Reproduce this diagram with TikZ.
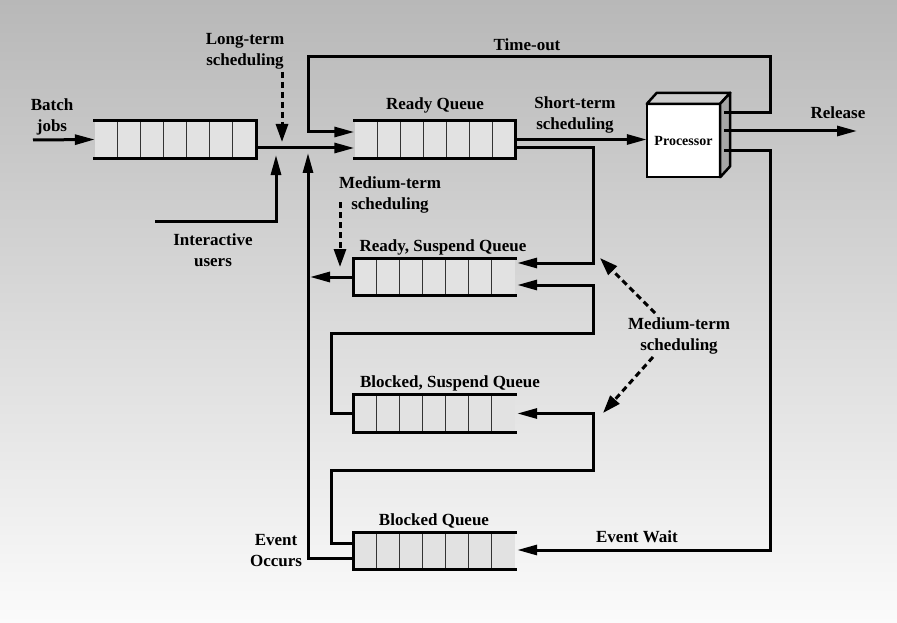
\documentclass[tikz,border=0pt]{standalone}
\usepackage{fontspec}
\setmainfont{Liberation Serif}
\usetikzlibrary{arrows.meta,calc}
\definecolor{bgtop}{RGB}{184,184,184}
\definecolor{bgbot}{RGB}{251,251,251}
\definecolor{qfill}{RGB}{226,226,226}
\definecolor{ptop}{RGB}{205,205,205}
\definecolor{pside}{RGB}{165,165,165}
\tikzset{
  qnode/.style={rectangle, minimum width=161pt, minimum height=37pt, inner sep=0pt, fill=qfill, draw=none},
  qsep/.style={line width=1pt, black!80},
  qline/.style={line width=3pt, line join=miter, line cap=rect},
  conn/.style={line width=3pt, line join=miter},
  arr/.style={conn, -{Triangle[length=20pt,width=10pt]}},
  darr/.style={line width=3pt, dash pattern=on 6pt off 4pt, -{Triangle[length=18pt,width=12pt]}},
  lbl/.style={font=\fontsize{17}{21}\selectfont\bfseries, align=center, inner sep=0pt},
  plbl/.style={font=\fontsize{14}{17}\selectfont\bfseries, inner sep=0pt},
}
\newcommand\drawqueue[4]{%
  \node[qnode] (#1) at (#2,#3) {};
  \foreach \k in {1,...,6}{\draw[qsep] ($(#1.north west)+(\k*23,0)$) -- ($(#1.south west)+(\k*23,0)$);}
  \ifx e#4
    \draw[qline] (#1.north west) -- (#1.north east) -- (#1.south east) -- (#1.south west);
  \else
    \draw[qline] (#1.north east) -- (#1.north west) -- (#1.south west) -- (#1.south east);
  \fi
}
\begin{document}
\begin{tikzpicture}[x=1pt,y=-1pt]
\useasboundingbox (0,0) rectangle (897,623);
\shade[top color=bgtop, bottom color=bgbot] (0,0) rectangle (897,623);

% queues
\drawqueue{bq}{175.5}{139.5}{e}
\drawqueue{rq}{435}{139.5}{e}
\drawqueue{rsq}{434.5}{277}{w}
\drawqueue{bsq}{434.5}{413.5}{w}
\drawqueue{blq}{434.5}{551}{w}

% processor
\node[rectangle, minimum width=73pt, minimum height=73pt, inner sep=0pt, fill=white] (proc) at (683.5,140.5) {};
\filldraw[fill=ptop, line width=2.5pt, line join=round] (proc.north west) -- ++(10,-11) -- ($(proc.north east)+(10,-11)$) -- (proc.north east) -- cycle;
\filldraw[fill=pside, line width=2.5pt, line join=round] (proc.north east) -- ++(10,-11) -- ($(proc.south east)+(10,-11)$) -- (proc.south east) -- cycle;
\draw[line width=2.5pt] (proc.north west) rectangle (proc.south east);
\node[plbl] at (proc.center) {Processor};

% labels
\node[lbl] (lbatch) at (52,117) {Batch\\jobs};
\node[lbl] (llong) at (245,51) {Long-term\\scheduling};
\node[lbl] (linter) at (213,250) {Interactive\\users};
\node[lbl] (ltime) at (527,45) {Time-out};
\node[lbl] (lrq) at (435,105) {Ready Queue};
\node[lbl] (lshort) at (575,115) {Short-term\\scheduling};
\node[lbl] (lrel) at (838,113) {Release};
\node[lbl] (lmed1) at (390,195) {Medium-term\\scheduling};
\node[lbl] (lrsq) at (443,247) {Ready, Suspend Queue};
\node[lbl] (lmed2) at (679,336) {Medium-term\\scheduling};
\node[lbl] (lbsq) at (450,383) {Blocked, Suspend Queue};
\node[lbl] (lblq) at (434,521) {Blocked Queue};
\node[lbl] (lev) at (276,551) {Event\\Occurs};
\node[lbl] (lwait) at (637,537) {Event Wait};

% free ends
\coordinate (batchin) at (33,140);
\coordinate (interin) at (155,221);
\coordinate (relout) at (857,131);

% connectors
\draw[arr] (batchin) -- (bq.west);
\draw[arr] ($(bq.east)+(0,8.5)$) -- ($(rq.west)+(0,8.5)$);
\draw[arr] (interin) -| (276,155);
\draw[arr] ($(proc.east)+(4,-27.5)$) -| (770,57) -| (308,132) -- ($(rq.west)+(0,-7.5)$);
\draw[arr] ($(proc.east)+(4,-9.5)$) -- (relout);
\draw[arr] ($(proc.east)+(4,10.5)$) -| (770,550) -- ($(blq.east)+(2,-1)$);
\draw[arr] (rq.east) -- (rq.east -| proc.west);
\draw[arr] ($(rq.east)+(0,8.5)$) -| (593,263) -- ($(rsq.east)+(2,-14)$);
\draw[arr] (bsq.west) -- ++(-22,0) |- (593,333) |- ($(rsq.east)+(2,8)$);
\draw[arr] ($(blq.west)+(0,-8)$) -- ++(-22,0) |- (593,470) |- ($(bsq.east)+(2,0)$);
\draw[arr] ($(blq.west)+(0,7)$) -| (308,153);
\draw[arr] (rsq.west) -- (310,277);

% dashed scheduling arrows
\draw[darr] (282,72) -- (282,142);
\draw[darr] (340,202) -- (340,267);
\draw[darr] (655,313) -- (600,258);
\draw[darr] (653,357) -- (603,413);
\end{tikzpicture}
\end{document}
